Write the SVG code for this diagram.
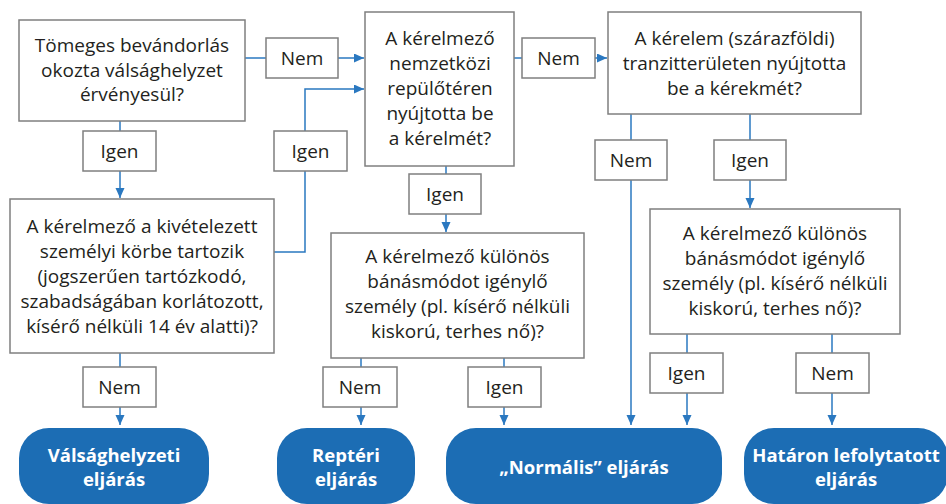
<svg xmlns="http://www.w3.org/2000/svg" width="946" height="504" viewBox="0 0 946 504">
<defs>
<marker id="arr" markerUnits="userSpaceOnUse" markerWidth="11" markerHeight="10" refX="10" refY="4.5" orient="auto">
<path d="M0,0 L10,4.5 L0,9 Z" fill="#2a78c0"/>
</marker>
<style>
.box{fill:#fff;stroke:#7f7f7f;stroke-width:1.5}
.lab{fill:#fff;stroke:#7f7f7f;stroke-width:1.5}
.t{font-family:"Open Sans","Noto Sans",sans-serif;font-size:19px;fill:#231f20;text-anchor:middle}
.term{fill:#1c6db4}
.tt{font-family:"Open Sans","Noto Sans",sans-serif;font-size:18.5px;font-weight:bold;fill:#fff;text-anchor:middle}
.c{fill:none;stroke:#2a78c0;stroke-width:1.5}
.a{marker-end:url(#arr)}
</style>
</defs>
<g id="connectors">
<path class="c" d="M245,58 H266"/>
<path class="c a" d="M338,58 H364"/>
<path class="c" d="M274,252 H305 V171"/>
<path class="c a" d="M305,131 V89 H364"/>
<path class="c" d="M120,121 V131"/>
<path class="c a" d="M120,171 V198"/>
<path class="c" d="M514,58 H522"/>
<path class="c a" d="M595,58 H607"/>
<path class="c" d="M446,166 V174"/>
<path class="c a" d="M446,214 V232"/>
<path class="c" d="M631,114 V140"/>
<path class="c a" d="M631,180 V425"/>
<path class="c" d="M750,114 V140"/>
<path class="c a" d="M750,180 V208"/>
<path class="c" d="M120,353 V367"/>
<path class="c a" d="M120,407 V425"/>
<path class="c" d="M361,358 V367"/>
<path class="c a" d="M361,407 V425"/>
<path class="c" d="M504,358 V367"/>
<path class="c a" d="M504,407 V425"/>
<path class="c" d="M687,334 V353"/>
<path class="c a" d="M687,393 V425"/>
<path class="c" d="M832,334 V353"/>
<path class="c a" d="M832,393 V425"/>
</g>
<g id="labels">
<g id="l-nem1"><rect class="lab" x="266" y="38" width="72" height="40"/><text class="t" x="302" y="64.5">Nem</text></g>
<g id="l-igen1"><rect class="lab" x="83" y="131" width="73" height="40"/><text class="t" x="119.5" y="157.5">Igen</text></g>
<g id="l-igen2"><rect class="lab" x="274" y="131" width="73" height="40"/><text class="t" x="310.5" y="157.5">Igen</text></g>
<g id="l-nem2"><rect class="lab" x="522" y="38" width="73" height="40"/><text class="t" x="558.5" y="64.5">Nem</text></g>
<g id="l-igen3"><rect class="lab" x="409" y="174" width="72" height="40"/><text class="t" x="445" y="200.5">Igen</text></g>
<g id="l-nem3"><rect class="lab" x="595" y="140" width="72" height="40"/><text class="t" x="631" y="166.5">Nem</text></g>
<g id="l-igen4"><rect class="lab" x="714" y="140" width="72" height="40"/><text class="t" x="750" y="166.5">Igen</text></g>
<g id="l-nem4"><rect class="lab" x="83" y="367" width="73" height="40"/><text class="t" x="119.5" y="393.5">Nem</text></g>
<g id="l-nem5"><rect class="lab" x="323" y="367" width="74" height="40"/><text class="t" x="360" y="393.5">Nem</text></g>
<g id="l-igen5"><rect class="lab" x="468" y="367" width="73" height="40"/><text class="t" x="504.5" y="393.5">Igen</text></g>
<g id="l-igen6"><rect class="lab" x="650" y="353" width="73" height="40"/><text class="t" x="686.5" y="379.5">Igen</text></g>
<g id="l-nem6"><rect class="lab" x="796" y="353" width="73" height="40"/><text class="t" x="832.5" y="379.5">Nem</text></g>
</g>
<g id="q1">
<rect class="box" x="19" y="20" width="226" height="101"/>
<text class="t" x="132" y="52">Tömeges bevándorlás</text>
<text class="t" x="132" y="77">okozta válsághelyzet</text>
<text class="t" x="132" y="101">érvényesül?</text>
</g>
<g id="q2">
<rect class="box" x="365" y="12" width="149" height="154"/>
<text class="t" x="440" y="45">A kérelmező</text>
<text class="t" x="440" y="70">nemzetközi</text>
<text class="t" x="440" y="95">repülőtéren</text>
<text class="t" x="440" y="120">nyújtotta be</text>
<text class="t" x="440" y="145">a kérelmét?</text>
</g>
<g id="q3">
<rect class="box" x="608" y="12" width="253" height="102"/>
<text class="t" x="734.5" y="45">A kérelem (szárazföldi)</text>
<text class="t" x="734.5" y="70">tranzitterületen nyújtotta</text>
<text class="t" x="734.5" y="95">be a kérekmét?</text>
</g>
<g id="q4">
<rect class="box" x="10" y="199" width="264" height="154"/>
<text class="t" x="142" y="233">A kérelmező a kivételezett</text>
<text class="t" x="142" y="258">személyi körbe tartozik</text>
<text class="t" x="142" y="283">(jogszerűen tartózkodó,</text>
<text class="t" x="142" y="308">szabadságában korlátozott,</text>
<text class="t" x="142" y="333">kísérő nélküli 14 év alatti)?</text>
</g>
<g id="q5">
<rect class="box" x="331" y="233" width="253" height="125"/>
<text class="t" x="457.5" y="263">A kérelmező különös</text>
<text class="t" x="457.5" y="288">bánásmódot igénylő</text>
<text class="t" x="457.5" y="313">személy (pl. kísérő nélküli</text>
<text class="t" x="457.5" y="338">kiskorú, terhes nő)?</text>
</g>
<g id="q6">
<rect class="box" x="650" y="209" width="250" height="125"/>
<text class="t" x="775" y="240">A kérelmező különös</text>
<text class="t" x="775" y="265">bánásmódot igénylő</text>
<text class="t" x="775" y="290">személy (pl. kísérő nélküli</text>
<text class="t" x="775" y="315">kiskorú, terhes nő)?</text>
</g>
<g id="t1">
<rect class="term" x="19" y="428" width="190" height="76" rx="30"/>
<text class="tt" x="114" y="462">Válsághelyzeti</text>
<text class="tt" x="114" y="486">eljárás</text>
</g>
<g id="t2">
<rect class="term" x="277" y="428" width="138" height="76" rx="30"/>
<text class="tt" x="346" y="462">Reptéri</text>
<text class="tt" x="346" y="486">eljárás</text>
</g>
<g id="t3">
<rect class="term" x="446" y="428" width="276" height="76" rx="30"/>
<text class="tt" x="584" y="474">„Normális” eljárás</text>
</g>
<g id="t4">
<rect class="term" x="744" y="428" width="204" height="76" rx="30"/>
<text class="tt" x="846" y="462">Határon lefolytatott</text>
<text class="tt" x="846" y="486">eljárás</text>
</g>
</svg>
